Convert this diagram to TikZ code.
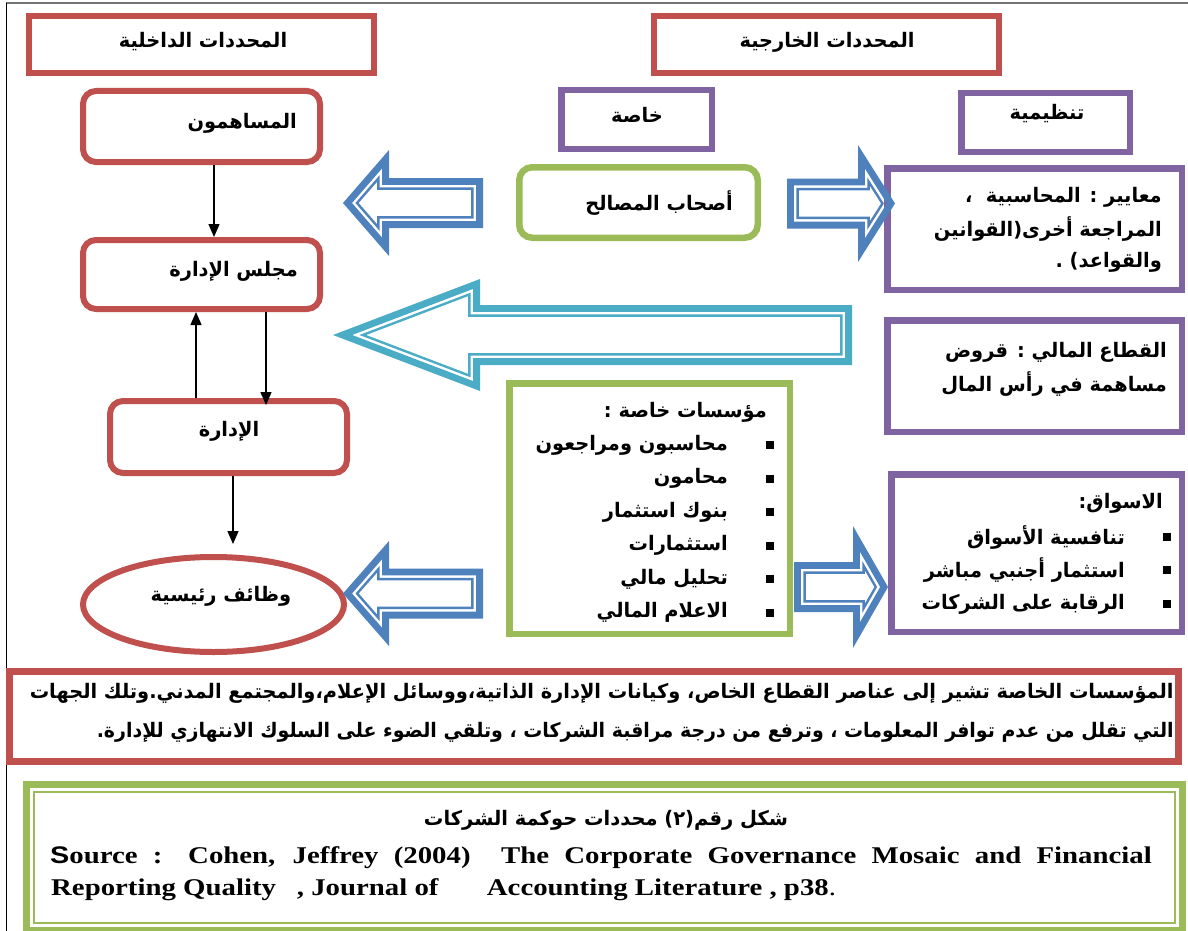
\documentclass[tikz,border=0pt]{standalone}
\usepackage{fontspec}
\usepackage{graphicx}
\usetikzlibrary{arrows.meta,shapes.geometric,calc}
\setmainfont{Liberation Serif}
\newfontfamily\arabicfont[Script=Arabic]{DejaVu Sans}
\newfontfamily\sansf{Liberation Sans}
\TeXXeTstate=1
\definecolor{cred}{HTML}{C0504D}
\definecolor{cpurple}{HTML}{8064A2}
\definecolor{cgreen}{HTML}{9BBB59}
\definecolor{cblue}{HTML}{4F81BD}
\definecolor{ccyan}{HTML}{4BACC6}
\newcommand\arfs{\fontsize{20}{24}\selectfont}
\newcommand\arsc{0.97}
\newcommand\arlab[1]{\scalebox{\arsc}[1]{\arabicfont\bfseries\arfs #1}}
\newcommand\arfit[2]{\resizebox{#1}{\height}{\arabicfont\bfseries\arfs #2}}
% block arrow with thick-thin outline
\newcommand\blockarrow[7]{% tip x, centre y, head base x, head half height, shaft half height, tail x, colour
  \pgfmathsetmacro\bas{(#6>#1)*2-1}%
  \pgfmathsetmacro\bat{#4/abs(#3-#1)}%
  \pgfmathsetmacro\basin{sin(atan(\bat))}%
  \blockarrowpoly{#1}{#2}{#3}{#5}{#6}{3.4}{line width=6.8pt,draw=#7}%
  \blockarrowpoly{#1}{#2}{#3}{#5}{#6}{10.6}{line width=2.4pt,draw=#7}%
}
\newcommand\blockarrowpoly[7]{%
  \pgfmathsetmacro\baT{#1+\bas*#6/\basin}%
  \pgfmathsetmacro\baH{#3-\bas*#6}%
  \pgfmathsetmacro\baE{#5-\bas*#6}%
  \pgfmathsetmacro\baHH{abs(\baH-\baT)*\bat}%
  \pgfmathsetmacro\baS{#4-#6}%
  \draw[#7,line join=miter,miter limit=20] (\baT,#2) -- (\baH,{#2-\baHH}) -- (\baH,{#2-\baS}) -- (\baE,{#2-\baS}) -- (\baE,{#2+\baS}) -- (\baH,{#2+\baS}) -- (\baH,{#2+\baHH}) -- cycle;
}
\tikzset{
  redbox/.style={draw=cred,line width=6pt,inner sep=0pt},
  redround/.style={redbox,rounded corners=13pt},
  purbox/.style={draw=cpurple,line width=6.5pt,inner sep=0pt},
  grnbox/.style={draw=cgreen,line width=6.5pt,inner sep=0pt},
  lab/.style={inner sep=0pt},
  conn/.style={line width=1.3pt,-{Triangle[length=13pt,width=11pt]}},
  bullet/.style={fill=black},
  srcfont/.style={font=\bfseries\fontsize{24}{28}\selectfont}
}
\begin{document}
\begin{tikzpicture}[x=1pt,y=-1pt]
\useasboundingbox (0,0) rectangle (1188,931);
\fill[white] (0,0) rectangle (1188,931);
% page border lines
\draw[black!55,line width=1.5pt] (6,3) -- (1188,3);
\draw[black,line width=1pt] (6.5,3) -- (6.5,931);

% headers
\node[redbox,minimum width=345pt,minimum height=57pt] (hdrL) at (201.5,44.5) {};
\node[redbox,minimum width=345pt,minimum height=57pt] (hdrR) at (826.5,44.5) {};
\node[lab] (tHL) at (203,42) {\arlab{\beginR المحددات الداخلية\endR}};
\node[lab] (tHR) at (827,42) {\arlab{\beginR المحددات الخارجية\endR}};

% left column
\node[redround,minimum width=237pt,minimum height=71pt] (mus) at (201.5,126.5) {};
\node[redround,minimum width=237pt,minimum height=69pt] (mag) at (201.5,274.5) {};
\node[redround,minimum width=237pt,minimum height=72pt] (idr) at (228.5,437) {};
\node[draw=cred,line width=6pt,ellipse,inner sep=0pt,minimum width=261pt,minimum height=95pt] (wz) at (213.5,604.5) {};
\node[lab,anchor=east] (tMus) at (297,123) {\arlab{\beginR المساهمون\endR}};
\node[lab,anchor=east] (tMag) at (298,271) {\arlab{\beginR مجلس الإدارة\endR}};
\node[lab] (tIdr) at (229,431) {\arlab{\beginR الإدارة\endR}};
\node[lab] (tWz) at (221,596) {\arlab{\beginR وظائف رئيسية\endR}};

\coordinate (xa) at (214,0);
\coordinate (xb) at (196,0);
\coordinate (xc) at (266,0);
\coordinate (xd) at (233,0);
\draw[conn] (mus.south -| xa) -- (mag.north -| xa);
\draw[conn] (idr.north -| xb) -- (mag.south -| xb);
\draw[conn] (mag.south -| xc) -- ([yshift=-7pt]idr.north -| xc);
\draw[conn] (idr.south -| xd) -- ([yshift=10pt]wz.north -| xd);

% external: top boxes
\node[purbox,minimum width=150.5pt,minimum height=58.5pt] (khasa) at (636.5,119.5) {};
\node[purbox,minimum width=168.5pt,minimum height=58.5pt] (tanz) at (1045.5,122.5) {};
\node[lab] (tKh) at (637,115) {\arlab{\beginR خاصة\endR}};
\node[lab] (tTz) at (1047,114) {\arlab{\beginR تنظيمية\endR}};

\node[grnbox,rounded corners=13pt,minimum width=238.5pt,minimum height=70.5pt] (ashab) at (638.5,202.5) {};
\node[lab,anchor=east] (tAs) at (733,203) {\arlab{\beginR أصحاب المصالح\endR}};

\node[purbox,minimum width=294.5pt,minimum height=121.5pt] (maay) at (1034.5,229) {};
\node[lab,anchor=east] (tMa1) at (1162,197) {\arlab{\beginR معايير : المحاسبية \ ،\endR}};
\node[lab,anchor=east] (tMa2) at (1162,229) {\arlab{\beginR المراجعة أخرى(القوانين\endR}};
\node[lab,anchor=east] (tMa3) at (1162,262) {\arlab{\beginR والقواعد) .\endR}};

\node[purbox,minimum width=294.5pt,minimum height=111.5pt] (qitaa) at (1034.5,376) {};
\node[lab,anchor=east] (tQi1) at (1167,352) {\arlab{\beginR القطاع المالي : قروض\endR}};
\node[lab,anchor=east] (tQi2) at (1167,384) {\arlab{\beginR مساهمة في رأس المال\endR}};

% private institutions box
\node[grnbox,minimum width=280.5pt,minimum height=250.5pt] (muas) at (649.5,508.5) {};
\node[lab,anchor=east] (tMuT) at (767,412) {\arlab{\beginR مؤسسات خاصة :\endR}};
\begin{scope}
\clip (510,384) rectangle (790,622);
\node[lab,anchor=east] (tMu1) at (728,445) {\arlab{\beginR محاسبون ومراجعون\endR}};
\node[lab,anchor=east] (tMu2) at (728,478.5) {\arlab{\beginR محامون\endR}};
\node[lab,anchor=east] (tMu3) at (728,512) {\arlab{\beginR بنوك استثمار\endR}};
\node[lab,anchor=east] (tMu4) at (728,545.5) {\arlab{\beginR استثمارات\endR}};
\node[lab,anchor=east] (tMu5) at (728,579) {\arlab{\beginR تحليل مالي\endR}};
\node[lab,anchor=east] (tMu6) at (728,612.5) {\arlab{\beginR الاعلام المالي\endR}};
\end{scope}
\foreach \yy in {445,478.5,512,545.5,579,612.5}{\fill[bullet] (766,\yy-4) rectangle (774,\yy+4);}

% markets box
\node[purbox,minimum width=290.5pt,minimum height=157.5pt] (aswaq) at (1036.5,553) {};
\node[lab,anchor=east] (tAsT) at (1163,503) {\arlab{\beginR الاسواق:\endR}};
\node[lab,anchor=east] (tAs1) at (1125,537) {\arlab{\beginR تنافسية الأسواق\endR}};
\node[lab,anchor=east] (tAs2) at (1125,570) {\arlab{\beginR استثمار أجنبي مباشر\endR}};
\node[lab,anchor=east] (tAs3) at (1125,604) {\arlab{\beginR الرقابة على الشركات\endR}};
\foreach \yy in {537,570,604}{\fill[bullet] (1163,\yy-4) rectangle (1171,\yy+4);}

% block arrows
\blockarrow{343}{203}{389}{53}{25}{483}{cblue}
\blockarrow{895}{203.5}{858}{58.5}{25}{787}{cblue}
\blockarrow{333}{335}{480}{56}{30}{852}{ccyan}
\blockarrow{343}{593.5}{389}{52.5}{25}{483}{cblue}
\blockarrow{888}{587}{853}{61}{25}{794}{cblue}

% note box
\node[draw=cred,line width=7pt,inner sep=0pt,minimum width=1169pt,minimum height=90pt] (note) at (594,716.5) {};
\node[lab,anchor=east] (tN1) at (1174,693) {\arfit{1144pt}{\beginR المؤسسات الخاصة تشير إلى عناصر القطاع الخاص، وكيانات الإدارة الذاتية،ووسائل الإعلام،والمجتمع المدني.وتلك الجهات\endR}};
\node[lab,anchor=east] (tN2) at (1174,732) {\arfit{1077pt}{\beginR التي تقلل من عدم توافر المعلومات ، وترفع من درجة مراقبة الشركات ، وتلقي الضوء على السلوك الانتهازي للإدارة.\endR}};

% source box
\node[draw=cgreen,line width=7pt,inner sep=0pt,minimum width=1156pt,minimum height=146pt] (srcbox) at (604.5,857.5) {};
\coordinate (ia) at ([xshift=11.25pt,yshift=-11.25pt]srcbox.north west);
\coordinate (ib) at ([xshift=-11.25pt,yshift=11.25pt]srcbox.south east);
\draw[cgreen,line width=2.4pt] (ia) rectangle (ib);
\node[lab] (tCap) at (606,820) {\arfit{364pt}{\beginR شكل رقم(٢) محددات حوكمة الشركات\endR}};
\node[lab,anchor=west,srcfont] (tS1) at (50,858) {\scalebox{1.2}[1]{\hbox to 918pt{{\sansf S}ource : Cohen, Jeffrey (2004) \ The Corporate Governance Mosaic and Financial}}};
\node[lab,anchor=west,srcfont] (tS2) at (51,890) {\scalebox{1.2}[1]{\hbox to 654pt{Reporting Quality\hskip 0pt plus 1fil\ , Journal of\hskip 0pt plus 3fil\ Accounting Literature , p38{\mdseries.}}}};
\end{tikzpicture}
\end{document}
